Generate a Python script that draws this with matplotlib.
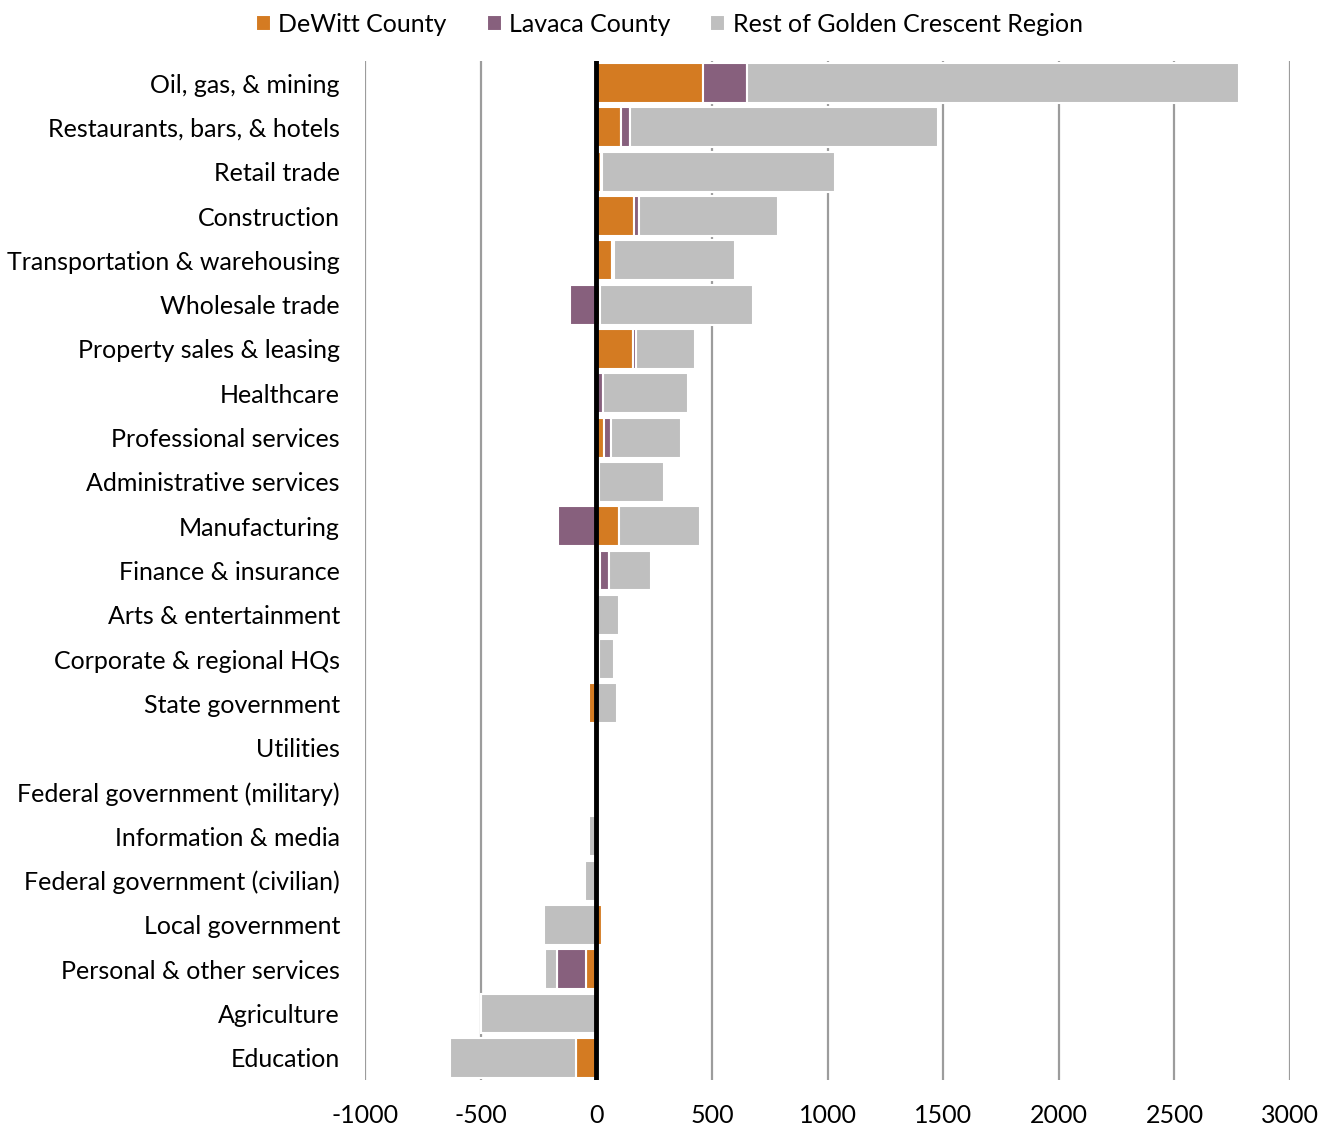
import numpy as np
import matplotlib.pyplot as plt

industries = ['Oil, gas, & mining', 'Restaurants, bars, & hotels', 'Retail trade',
              'Construction', 'Transportation & warehousing', 'Wholesale trade',
              'Property sales & leasing', 'Healthcare', 'Professional services',
              'Administrative services', 'Manufacturing', 'Finance & insurance',
              'Arts & entertainment', 'Corporate & regional HQs', 'State government',
              'Utilities', 'Federal government (military)', 'Information & media',
              'Federal government (civilian)', 'Local government',
              'Personal & other services', 'Agriculture', 'Education']

dewitt = [463, 105, 20, 165, 67, 18, 157, 0, 35, 0, 100, 17, 0, 13, -30,
          0, 0, 0, 0, 27, -43, 0, -87]
lavaca = [190, 40, 3, 20, 8, -113, 13, 30, 30, 10, -165, 38, 0, 0, 0,
          0, 0, 0, 0, 0, -125, 0, 0]
rest = [2125, 1333, 1010, 600, 525, 660, 255, 365, 300, 283, 348, 183, 97, 63, 90,
        12, 0, -30, -48, -225, -52, -497, -545]

series = [('DeWitt County', dewitt, '#D47B22'),
          ('Lavaca County', lavaca, '#87607D'),
          ('Rest of Golden Crescent Region', rest, '#BFBFBF')]

plt.rcParams['font.family'] = ['Lato', 'DejaVu Sans']
plt.rcParams['axes.unicode_minus'] = False

fig = plt.figure(figsize=(13.33, 11.27), dpi=100)
ax = fig.add_axes([0.2738, 0.0417, 0.694, 0.9042])

y = np.arange(len(industries))
pos_base = np.zeros(len(industries))
neg_base = np.zeros(len(industries))
for name, vals, color in series:
    v = np.array(vals, dtype=float)
    left = np.where(v >= 0, pos_base, neg_base)
    ax.barh(y, v, left=left, height=0.9, color=color, edgecolor='white',
            linewidth=1.5, label=name, zorder=3)
    pos_base += np.where(v > 0, v, 0)
    neg_base += np.where(v < 0, v, 0)

ax.axvline(0, color='black', linewidth=3.5, zorder=4)

ax.set_xlim(-1000, 3000)
ax.set_ylim(len(industries) - 0.5, -0.5)
ax.set_xticks(np.arange(-1000, 3001, 500))
ax.set_yticks(y)
ax.set_yticklabels(industries, fontsize=18)
ax.tick_params(axis='y', length=0, pad=18)
ax.tick_params(axis='x', length=0, pad=17, labelsize=18)
ax.grid(axis='x', color='#9C9C9C', linewidth=1.6, zorder=0)
for s in ax.spines.values():
    s.set_visible(False)

ax.legend(loc='lower center', bbox_to_anchor=(0.329, 1.0), ncol=3, frameon=False,
          fontsize=18, handlelength=0.6, handleheight=0.6, handletextpad=0.3,
          columnspacing=1.6, borderaxespad=0.6)

fig.savefig('out.png', dpi=100)
